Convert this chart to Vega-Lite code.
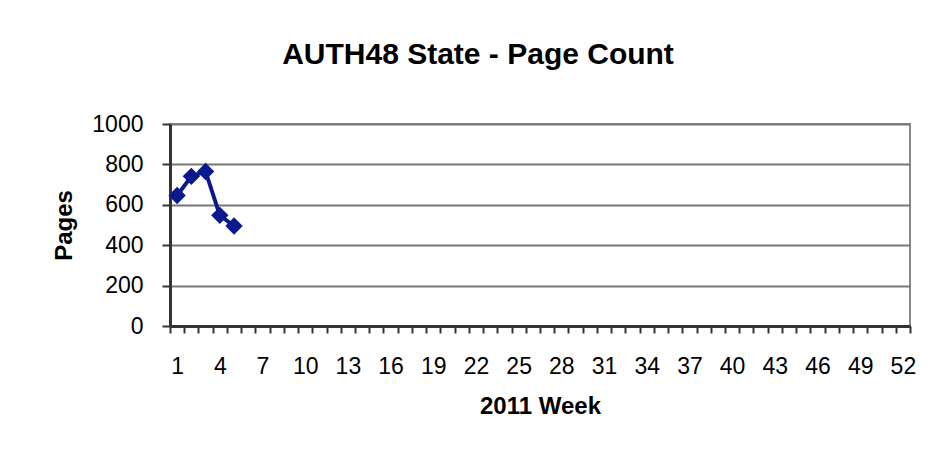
{
  "$schema": "https://vega.github.io/schema/vega-lite/v6.json",
  "autosize": {"type": "none"},
  "width": 740,
  "height": 202,
  "padding": {"left": 170, "top": 124, "right": 20, "bottom": 130},
  "background": "white",
  "title": {
    "text": "AUTH48 State - Page Count",
    "font": "Liberation Sans",
    "fontSize": 30,
    "fontWeight": "bold",
    "color": "#000000",
    "anchor": "middle",
    "frame": "group",
    "dx": -62,
    "offset": 43
  },
  "config": {
    "view": {"stroke": "#888888", "strokeWidth": 2},
    "axis": {
      "labelFont": "Liberation Sans",
      "titleFont": "Liberation Sans",
      "labelColor": "#000000",
      "titleColor": "#000000"
    }
  },
  "data": {
    "values": [
      {"week": 1, "pages": 646},
      {"week": 2, "pages": 741},
      {"week": 3, "pages": 765},
      {"week": 4, "pages": 548},
      {"week": 5, "pages": 495}
    ]
  },
  "resolve": {"axis": {"x": "independent"}},
  "layer": [
    {
      "mark": {"type": "line", "color": "#0A1A8C", "strokeWidth": 4},
      "encoding": {
        "x": {
          "field": "week",
          "type": "quantitative",
          "scale": {"domain": [0.5, 52.5], "nice": false, "zero": false},
          "axis": {
            "orient": "bottom",
            "title": "2011 Week",
            "titleFontSize": 24,
            "titleFontWeight": "bold",
            "titlePadding": 16,
            "values": [1, 4, 7, 10, 13, 16, 19, 22, 25, 28, 31, 34, 37, 40, 43, 46, 49, 52],
            "ticks": false,
            "domain": false,
            "grid": false,
            "labelFontSize": 23,
            "labelPadding": 29,
            "labelFlush": false
          }
        },
        "y": {
          "field": "pages",
          "type": "quantitative",
          "scale": {"domain": [0, 1000], "nice": false},
          "axis": {
            "title": "Pages",
            "titleFontSize": 24,
            "titleFontWeight": "bold",
            "titlePadding": 15,
            "values": [0, 200, 400, 600, 800, 1000],
            "format": "d",
            "grid": true,
            "gridColor": "#777777",
            "gridWidth": 2,
            "gridOpacity": 1,
            "domainColor": "#333333",
            "domainWidth": 3,
            "tickColor": "#333333",
            "tickWidth": 2,
            "tickSize": 8,
            "labelFontSize": 23,
            "labelPadding": 19
          }
        }
      }
    },
    {
      "mark": {"type": "point", "shape": "diamond", "filled": true, "size": 300, "color": "#0A1A8C", "opacity": 1},
      "encoding": {
        "x": {
          "field": "week",
          "type": "quantitative",
          "axis": {
            "orient": "bottom",
            "title": null,
            "values": [0.5, 1.5, 2.5, 3.5, 4.5, 5.5, 6.5, 7.5, 8.5, 9.5, 10.5, 11.5, 12.5, 13.5, 14.5, 15.5, 16.5, 17.5, 18.5, 19.5, 20.5, 21.5, 22.5, 23.5, 24.5, 25.5, 26.5, 27.5, 28.5, 29.5, 30.5, 31.5, 32.5, 33.5, 34.5, 35.5, 36.5, 37.5, 38.5, 39.5, 40.5, 41.5, 42.5, 43.5, 44.5, 45.5, 46.5, 47.5, 48.5, 49.5, 50.5, 51.5, 52.5],
            "labels": false,
            "grid": false,
            "domainColor": "#333333",
            "domainWidth": 3,
            "tickColor": "#333333",
            "tickWidth": 2,
            "tickSize": 7
          }
        },
        "y": {"field": "pages", "type": "quantitative"}
      }
    }
  ]
}
